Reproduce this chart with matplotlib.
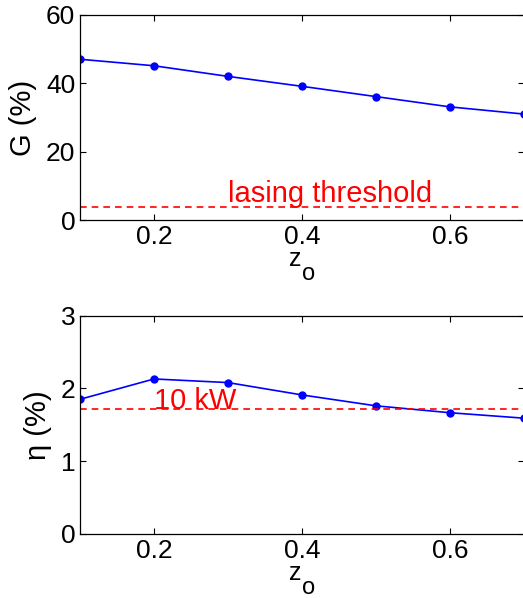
import matplotlib
matplotlib.use("Agg")
import matplotlib.pyplot as plt

plt.rcParams['font.family'] = ['Liberation Sans', 'DejaVu Sans']

# data
z_o = [0.1, 0.2, 0.3, 0.4, 0.5, 0.6, 0.7]
gain = [47.0, 45.1, 42.0, 39.1, 36.1, 33.1, 31.0]
eta = [1.85, 2.13, 2.08, 1.91, 1.76, 1.665, 1.59]
lasing_threshold = 4.0
eta_10kw = 1.71

fig = plt.figure(figsize=(5.23, 5.98), dpi=100)
ax1 = fig.add_axes([0.153, 0.6316, 0.849, 0.3438])
ax2 = fig.add_axes([0.153, 0.1075, 0.849, 0.3645])

fs_tick = 19
fs_lab = 21
fs_red = 21

##top panel: gain
ax1.plot(z_o, gain, '-o', color='blue', lw=1.2, ms=5)
ax1.axhline(lasing_threshold, color='red', lw=1.2, dashes=(4, 3))
ax1.text(0.3, lasing_threshold + 1.3, 'lasing threshold', color='red', fontsize=fs_red, va='baseline', ha='left')
ax1.set_ylim(0, 60)
ax1.set_yticks([0, 20, 40, 60])
ax1.set_ylabel('G (%)', fontsize=fs_lab, labelpad=6)

##bottom panel: efficiency
ax2.plot(z_o, eta, '-o', color='blue', lw=1.2, ms=5)
ax2.axhline(eta_10kw, color='red', lw=1.2, dashes=(4, 3))
ax2.text(0.2, eta_10kw, '10 kW', color='red', fontsize=fs_red, va='baseline', ha='left')
ax2.set_ylim(0, 3)
ax2.set_yticks([0, 1, 2, 3])
ax2.set_ylabel('η (%)', fontsize=fs_lab, labelpad=6)

for ax in (ax1, ax2):
    ax.set_xlim(0.1, 0.7)
    ax.set_xticks([0.2, 0.4, 0.6])
    # x label z_o, matlab style subscript (nearly full size)
    ax.annotate('z', xy=(0.4, 0), xycoords=('data', 'axes fraction'), xytext=(-1, -46),
                textcoords='offset pixels', fontsize=18, ha='right', va='baseline')
    ax.annotate('o', xy=(0.4, 0), xycoords=('data', 'axes fraction'), xytext=(0, -60),
                textcoords='offset pixels', fontsize=17, ha='left', va='baseline')
    ax.tick_params(direction='in', top=True, right=True, labelsize=fs_tick, length=4, width=0.8)
    for s in ax.spines.values():
        s.set_linewidth(0.9)

fig.savefig('out.png', dpi=100)
